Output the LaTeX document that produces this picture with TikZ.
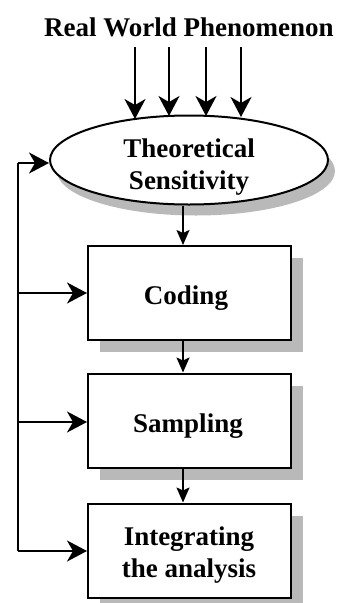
\documentclass[tikz,border=0pt]{standalone}
\usepackage{fontspec}
\setmainfont{Liberation Serif}
\usetikzlibrary{arrows.meta,shapes.geometric,shadows}
\begin{document}
\begin{tikzpicture}[x=1pt,y=-1pt,
  lbl/.style={font=\fontsize{27}{32}\selectfont\bfseries, align=center},
  arr/.style={line width=1.8pt, -{Stealth[length=20pt,width=21pt,inset=6pt]}},
  sarr/.style={line width=1.8pt, -{Stealth[length=15pt,width=13pt,inset=3pt]}},
  ln/.style={line width=1.8pt},
  stepbox/.style={draw, line width=2pt, fill=white, minimum width=203pt, minimum height=94pt, inner sep=0pt,
    drop shadow={shadow xshift=12pt, shadow yshift=-12pt, fill=gray!55, opacity=1}},
  oval/.style={ellipse, draw, line width=2pt, fill=white, minimum width=278pt, minimum height=89pt, inner sep=0pt,
    drop shadow={shadow xshift=7pt, shadow yshift=-11pt, fill=gray!55, opacity=1}}
]
\useasboundingbox (0,0) rectangle (341,603);
\node[lbl] (title) at (189,27) {Real World Phenomenon};
\node[oval] (e) at (189,160) {};
\node[stepbox] (c) at (189.5,293) {};
\node[stepbox] (s) at (189.5,420.5) {};
\node[stepbox] (i) at (189.5,550.5) {};
\node[lbl] (et) at (189,167) {Theoretical\\Sensitivity};
\node[lbl] (ct) at (186,298) {Coding};
\node[lbl] (st) at (188,426) {Sampling};
\node[lbl] (it) at (189,555) {Integrating\\the analysis};
% top arrows
\coordinate (t1) at (135,47);
\coordinate (t2) at (169,47);
\coordinate (t3) at (206,47);
\coordinate (t4) at (241,47);
\coordinate (b1) at (135,119);
\coordinate (b2) at (169,116);
\coordinate (b3) at (206,116);
\coordinate (b4) at (241,117);
\foreach \k in {1,2,3,4} \draw[arr] (t\k) -- (b\k);
% main flow
\draw[sarr] (e.south -| 183,0) -- (c.north -| 183,0);
\draw[sarr] (c.south -| 183,0) -- (s.north -| 183,0);
\draw[sarr] (s.south -| 183,0) -- (i.north -| 183,0);
% feedback
\coordinate (f1) at (18,163);
\coordinate (f2) at (18,293);
\coordinate (f3) at (18,422);
\coordinate (f4) at (18,551);
\draw[ln] (f1) -- (f4);
\draw[arr] (f1) -- (e.west |- f1);
\draw[arr] (f2) -- (c.west |- f2);
\draw[arr] (f3) -- (s.west |- f3);
\draw[arr] (f4) -- (i.west |- f4);
\end{tikzpicture}
\end{document}
